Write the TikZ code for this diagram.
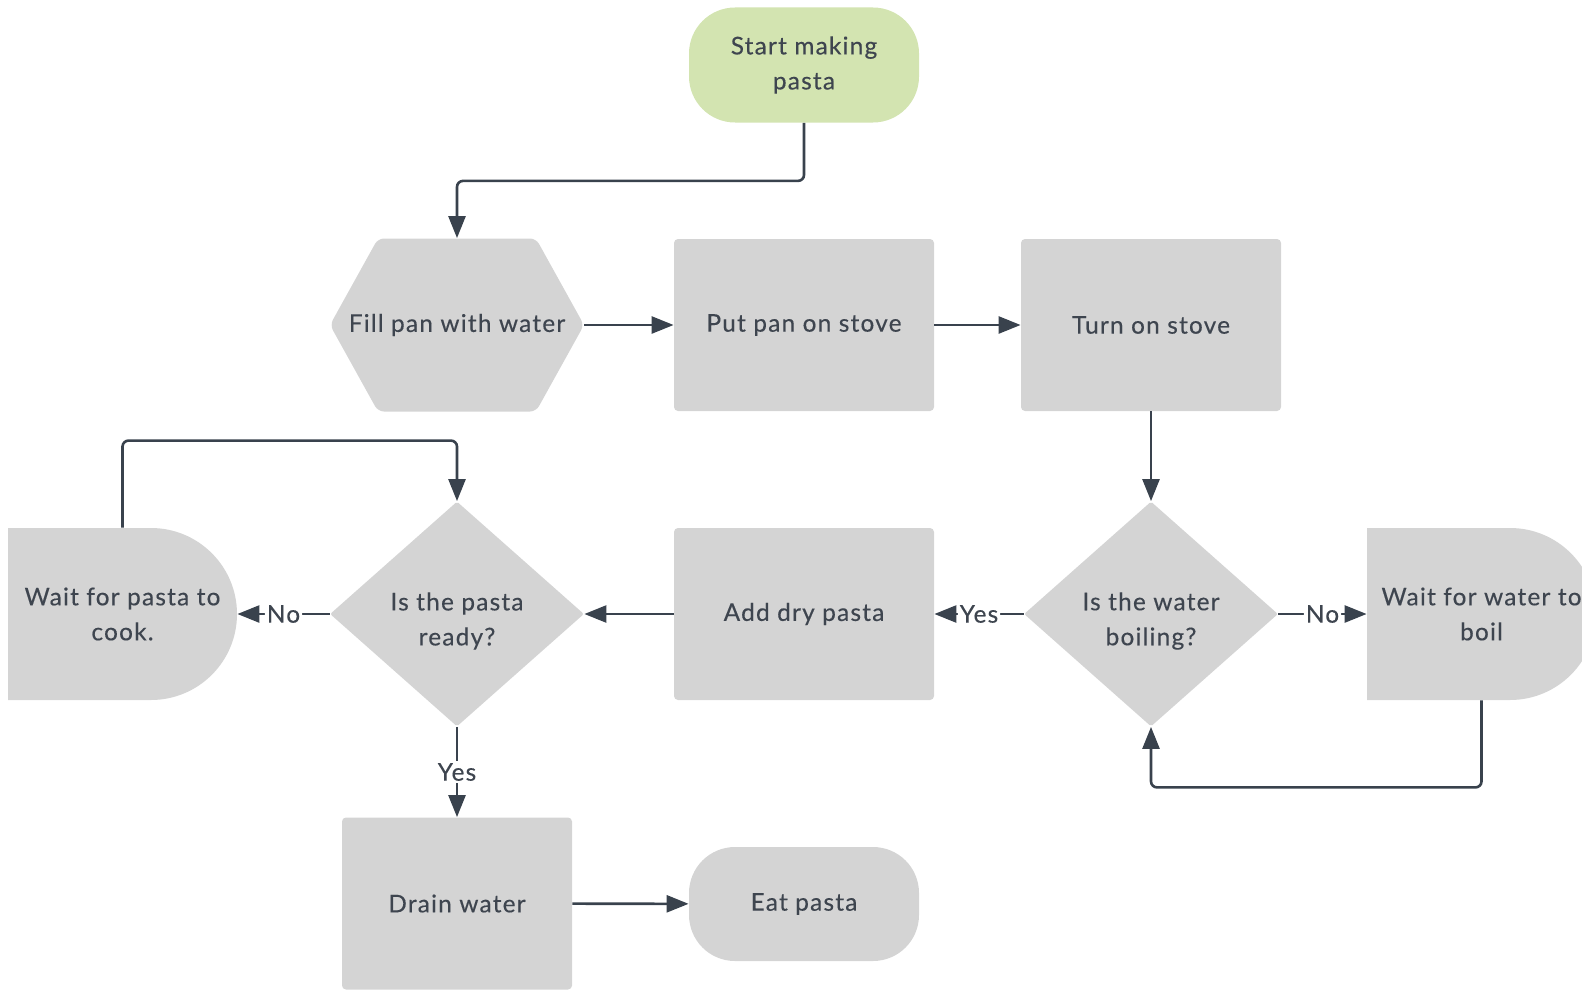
\documentclass[tikz,border=0pt]{standalone}
\usepackage{fontspec}
\setmainfont{Lato}[LetterSpace=5, FakeBold=0.3]
\usetikzlibrary{arrows.meta,shapes.geometric}

\definecolor{boxgray}{RGB}{212,212,212}
\definecolor{startgreen}{RGB}{211,228,177}
\definecolor{inkgray}{RGB}{62,69,79}
\definecolor{linegray}{RGB}{57,66,77}

\tikzset{
    every node/.style={font=\fontsize{12.2}{17.5}\selectfont, text=inkgray, align=center, inner sep=0pt},
    box/.style={rectangle, rounded corners=2pt, fill=boxgray, minimum width=130pt, minimum height=86pt},
    startbox/.style={rectangle, rounded corners=23pt, fill=startgreen, minimum width=115pt, minimum height=57.5pt},
    endbox/.style={rectangle, rounded corners=23pt, fill=boxgray, minimum width=115pt, minimum height=57pt},
    decision/.style={diamond, rounded corners=1pt, fill=boxgray, minimum width=127pt, minimum height=112.5pt},
    hexbox/.style={rectangle, fill=white, minimum width=127pt, minimum height=86.5pt,
        path picture={\fill[boxgray, rounded corners=3pt]
            (path picture bounding box.west)
            -- ([xshift=24pt]path picture bounding box.north west)
            -- ([xshift=-24pt]path picture bounding box.north east)
            -- (path picture bounding box.east)
            -- ([xshift=-24pt]path picture bounding box.south east)
            -- ([xshift=24pt]path picture bounding box.south west) -- cycle;}},
    delaybox/.style={rectangle, fill=white, minimum width=114.5pt, minimum height=86pt,
        path picture={\fill[boxgray]
            (path picture bounding box.north west)
            -- ([xshift=-43pt]path picture bounding box.north east)
            arc[start angle=90, end angle=-90, radius=43pt]
            -- (path picture bounding box.south west) -- cycle;}},
    conn/.style={draw=linegray, line width=1.3pt, rounded corners=3pt, -{Triangle[length=11pt, width=8.5pt]}},
    lbl/.style={fill=white, inner sep=1pt}
}

\begin{document}
\begin{tikzpicture}[x=0.5pt, y=-0.5pt]
    \clip (0,0) rectangle (1582,990);

    % top row
    \node[startbox] (start) at (804,65) {Start making\\pasta};
    \node[hexbox] (fillpan) at (457,325) {Fill pan with water};
    \node[box] (putpan) at (804,325) {Put pan on stove};
    \node[box] (turnon) at (1151,325) {Turn on stove};

    % middle row
    \node[delaybox] (waitpasta) at (122.5,614) {Wait for pasta to\\cook.};
    \node[decision] (ready) at (457,614) {};
    \node (readytext) at ([yshift=-3.5pt]ready.center) {Is the pasta\\ready?};
    \node[box] (adddry) at (804,614) {Add dry pasta};
    \node[decision] (boiling) at (1151,614) {};
    \node (boilingtext) at ([yshift=-3.5pt]boiling.center) {Is the water\\boiling?};
    \node[delaybox] (waitwater) at (1481.5,614) {Wait for water to\\boil};

    % bottom row
    \node[box, minimum width=115pt] (drain) at (457,903.5) {Drain water};
    \node[endbox] (eat) at (804,904) {Eat pasta};

    % connectors
    \draw[conn] (start.south) -- ++(0,58) -| (fillpan.north);
    \draw[conn] (fillpan) -- (putpan);
    \draw[conn] (putpan) -- (turnon);
    \draw[conn] (turnon) -- (boiling);
    \draw[conn] (boiling) -- node[lbl] {No} (waitwater);
    \draw[conn] (waitwater.south) -- ++(0,87) -| (boiling.south);
    \draw[conn] (boiling) -- node[lbl] {Yes} (adddry);
    \draw[conn] (adddry) -- (ready);
    \draw[conn] (ready) -- node[lbl] {No} (waitpasta);
    \draw[conn] (waitpasta.north) -- ++(0,-87) -| (ready.north);
    \draw[conn] (ready) -- node[lbl] {Yes} (drain);
    \draw[conn] (drain) -- (eat);
\end{tikzpicture}
\end{document}
